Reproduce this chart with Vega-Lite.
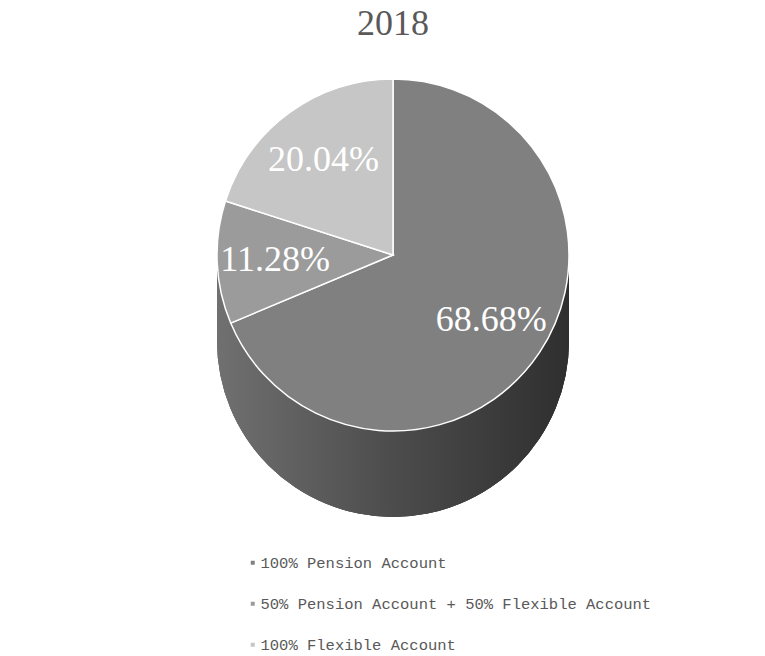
{
  "$schema": "https://vega.github.io/schema/vega-lite/v6.json",
  "width": 744,
  "height": 400,
  "autosize": {"type": "none"},
  "padding": {"left": 21, "top": 55, "right": 0, "bottom": 201},
  "background": "white",
  "title": {"text": "2018", "font": "Liberation Serif", "fontSize": 36, "fontWeight": "normal", "color": "#595959", "anchor": "middle", "offset": 12},
  "data": {"values": [
    {"idx": 1, "plan": "100% Pension Account", "share": 0.6868},
    {"idx": 2, "plan": "50% Pension Account + 50% Flexible Account", "share": 0.1128},
    {"idx": 3, "plan": "100% Flexible Account", "share": 0.2004}
  ]},
  "layer": [
    {"mark": {"type": "arc", "radius": 176, "yOffset": 86, "fill": {"gradient": "linear", "x1": 0, "y1": 0, "x2": 1, "y2": 0, "stops": [{"offset": 0, "color": "#707070"}, {"offset": 0.5, "color": "#4c4c4c"}, {"offset": 1, "color": "#2f2f2f"}]}}, "encoding": {}},
    {"mark": {"type": "arc", "radius": 176, "yOffset": 69, "fill": {"gradient": "linear", "x1": 0, "y1": 0, "x2": 1, "y2": 0, "stops": [{"offset": 0, "color": "#707070"}, {"offset": 0.5, "color": "#4c4c4c"}, {"offset": 1, "color": "#2f2f2f"}]}}, "encoding": {}},
    {"mark": {"type": "arc", "radius": 176, "yOffset": 52, "fill": {"gradient": "linear", "x1": 0, "y1": 0, "x2": 1, "y2": 0, "stops": [{"offset": 0, "color": "#707070"}, {"offset": 0.5, "color": "#4c4c4c"}, {"offset": 1, "color": "#2f2f2f"}]}}, "encoding": {}},
    {"mark": {"type": "arc", "radius": 176, "yOffset": 35, "fill": {"gradient": "linear", "x1": 0, "y1": 0, "x2": 1, "y2": 0, "stops": [{"offset": 0, "color": "#707070"}, {"offset": 0.5, "color": "#4c4c4c"}, {"offset": 1, "color": "#2f2f2f"}]}}, "encoding": {}},
    {"mark": {"type": "arc", "radius": 176, "yOffset": 18, "fill": {"gradient": "linear", "x1": 0, "y1": 0, "x2": 1, "y2": 0, "stops": [{"offset": 0, "color": "#707070"}, {"offset": 0.5, "color": "#4c4c4c"}, {"offset": 1, "color": "#2f2f2f"}]}}, "encoding": {}},
    {
      "mark": {"type": "arc", "radius": 176, "stroke": "white", "strokeWidth": 1.5},
      "encoding": {
        "theta": {"field": "share", "type": "quantitative", "stack": true},
        "order": {"field": "idx", "type": "quantitative"},
        "color": {
          "field": "plan", "type": "nominal",
          "scale": {"domain": ["100% Pension Account", "50% Pension Account + 50% Flexible Account", "100% Flexible Account"], "range": ["#808080", "#9b9b9b", "#c6c6c6"]},
          "legend": {"orient": "none", "legendX": 224, "legendY": 500, "direction": "vertical", "title": null, "symbolType": "square", "symbolSize": 16, "symbolStrokeWidth": 0, "labelFont": "Liberation Mono", "labelFontSize": 15.5, "labelColor": "#595959", "labelOffset": 0, "rowPadding": 24, "labelLimit": 0}
        }
      }
    },
    {
      "mark": {"type": "text", "radius": 118, "font": "Liberation Serif", "fontSize": 36, "fill": "white", "align": "center", "baseline": "middle"},
      "encoding": {
        "theta": {"field": "share", "type": "quantitative", "stack": true},
        "order": {"field": "idx", "type": "quantitative"},
        "text": {"field": "share", "type": "quantitative", "format": ".2%"}
      }
    }
  ],
  "config": {"view": {"stroke": null}}
}
